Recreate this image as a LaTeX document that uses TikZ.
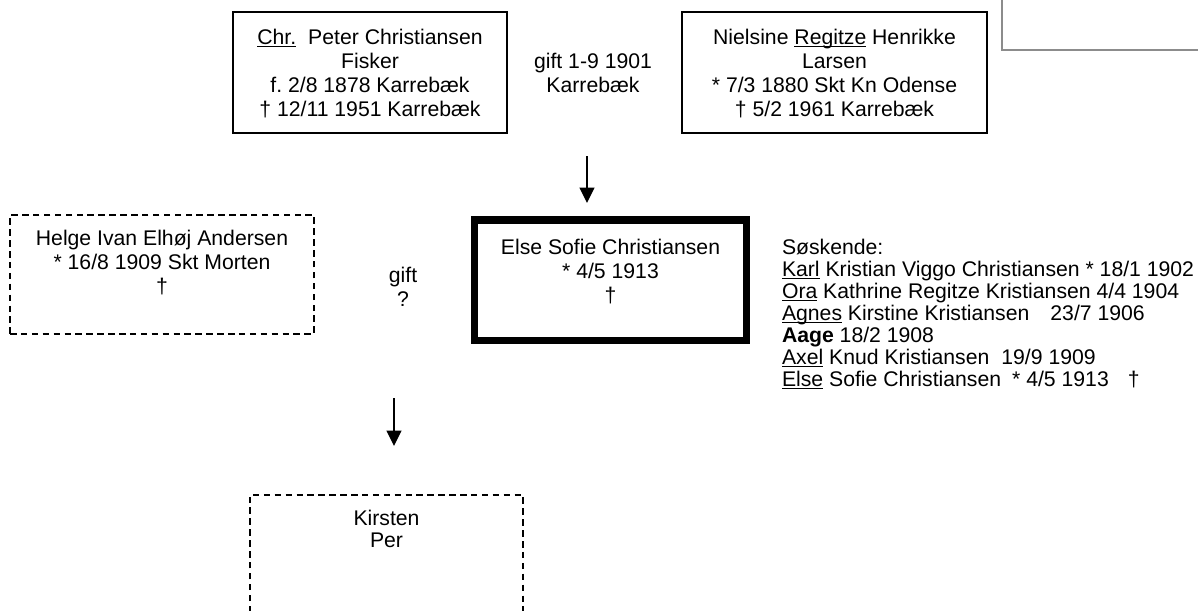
\documentclass[tikz,border=0pt]{standalone}
\usepackage{fontspec}
\setmainfont{Liberation Sans}
\usetikzlibrary{arrows.meta}
\frenchspacing
\newcommand\myul[1]{\leavevmode\setbox0=\hbox{#1}\rlap{\rule[-3pt]{\wd0}{1.4pt}}\box0\relax}
\newcommand\inbox[4]{\parbox[c][#1][t]{#2}{\centering\rule{0pt}{#3}#4\par}}
\begin{document}
\begin{tikzpicture}[x=1pt,y=-1pt,
  every node/.style={inner sep=0pt, outer sep=0pt, font=\fontsize{21.2}{24}\selectfont},
  solidbox/.style={draw, line width=1.3pt},
  dashbox/.style={line width=1.8pt, dash pattern=on 6.5pt off 4.4pt},
  thickbox/.style={draw, line width=7.5pt},
  graybox/.style={draw=black!45, line width=1.3pt},
  childarrow/.style={line width=1.4pt, -{Triangle[length=15.5pt,width=15pt]}}]
\useasboundingbox (0,0) rectangle (1198,610);
\fill[white] (0,0) rectangle (1198,610);

% partial box top right
\node[minimum width=200pt, minimum height=56pt, anchor=south west] (topright) at (1002,50) {};
\draw[graybox] (topright.north west) -- (topright.south west) -- (topright.south east);

% parents
\node[solidbox] (chr) at (370,72.5) {\inbox{121pt}{274pt}{32pt}{\myul{Chr.}\hspace{12pt}Peter Christiansen\\Fisker\\f. 2/8 1878 Karrebæk\\† 12/11 1951 Karrebæk}};
\node[solidbox] (niel) at (834.5,72.5) {\inbox{121pt}{305pt}{32pt}{Nielsine \myul{Regitze} Henrikke\\Larsen\\{*} 7/3 1880 Skt Kn Odense\\† 5/2 1961 Karrebæk}};
\node[anchor=base] (gift1) at (593,68) {\parbox[t]{150pt}{\centering gift 1-9 1901\\Karrebæk}};

% child
\node[thickbox] (else) at (610.5,280.25) {\inbox{120.5pt}{272pt}{34pt}{Else Sofie Christiansen\\{*} 4/5 1913\\†}};
\node[draw, dashbox] (helge) at (162,274.5) {\inbox{119pt}{304pt}{30pt}{Helge Ivan Elhøj Andersen\\{*} 16/8 1909 Skt Morten\\†}};
\node[anchor=base] (gift2) at (403,282) {\parbox[t]{60pt}{\centering gift\\?}};

% siblings
\node[anchor=base west] (sosk) at (782,254) {\parbox[t]{416pt}{\raggedright\baselineskip=22pt
Søskende:\\
\myul{Karl} Kristian Viggo Christiansen * 18/1 1902\\
\myul{Ora} Kathrine Regitze Kristiansen 4/4 1904\\
\myul{Agnes} Kirstine Kristiansen\hspace{21pt}23/7 1906\\
\textbf{Aage} 18/2 1908\\
\myul{Axel} Knud Kristiansen\hspace{12pt}19/9 1909\\
\myul{Else} Sofie Christiansen\hspace{11pt}* 4/5 1913\hspace{19pt}†}};

% arrows
\coordinate (a1s) at (587,156);
\coordinate (a1e) at (587,203);
\draw[childarrow] (a1s) -- (a1e);
\coordinate (a2s) at (394,398);
\coordinate (a2e) at (394,446);
\draw[childarrow] (a2s) -- (a2e);

% children of Else
\node (kirsten) at (386.5,553.5) {\inbox{117pt}{273pt}{30pt}{Kirsten\\[-2pt]Per}};
\draw[dashbox] (kirsten.south west) -- (kirsten.north west) -- (kirsten.north east) -- (kirsten.south east);
\end{tikzpicture}
\end{document}
